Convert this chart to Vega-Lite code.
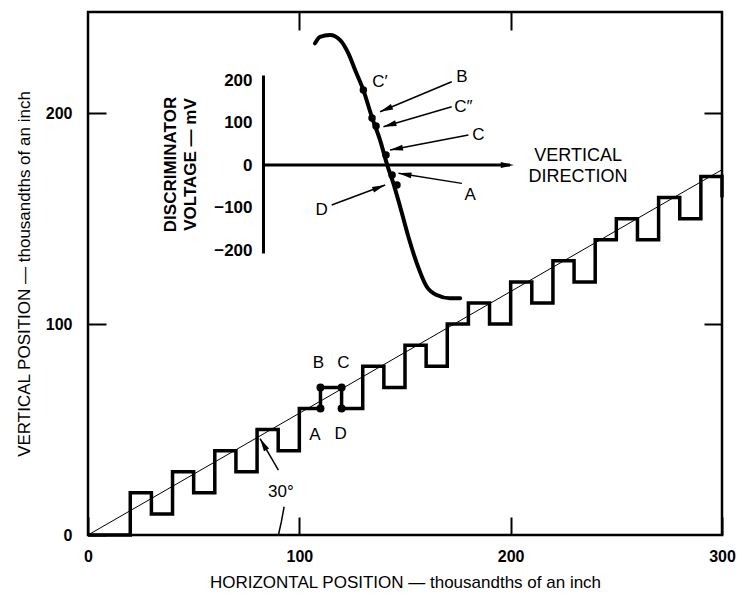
{
  "$schema": "https://vega.github.io/schema/vega-lite/v6.json",
  "width": 634,
  "height": 523,
  "autosize": {"type": "none"},
  "padding": {"left": 88, "top": 12, "right": 22, "bottom": 65},
  "background": "white",
  "config": {
    "view": {"stroke": "black", "strokeWidth": 2.5},
    "font": "Liberation Sans",
    "axis": {
      "domain": false, "grid": false, "tickColor": "black", "tickSize": -18, "tickWidth": 2,
      "labelColor": "black", "labelFont": "Liberation Sans", "labelFontSize": 16, "labelFontWeight": "bold",
      "titleFont": "Liberation Sans", "titleFontSize": 17, "titleFontWeight": "normal", "titleColor": "black"
    },
    "text": {"font": "Liberation Sans", "fontSize": 17, "color": "black"}
  },
  "datasets": {
    "stair": [
      {"i": 0, "x": 0, "y": 0}, {"i": 1, "x": 20, "y": 0}, {"i": 2, "x": 20, "y": 20}, {"i": 3, "x": 30, "y": 20},
      {"i": 4, "x": 30, "y": 10}, {"i": 5, "x": 40, "y": 10}, {"i": 6, "x": 40, "y": 30}, {"i": 7, "x": 50, "y": 30},
      {"i": 8, "x": 50, "y": 20}, {"i": 9, "x": 60, "y": 20}, {"i": 10, "x": 60, "y": 40}, {"i": 11, "x": 70, "y": 40},
      {"i": 12, "x": 70, "y": 30}, {"i": 13, "x": 80, "y": 30}, {"i": 14, "x": 80, "y": 50}, {"i": 15, "x": 90, "y": 50},
      {"i": 16, "x": 90, "y": 40}, {"i": 17, "x": 100, "y": 40}, {"i": 18, "x": 100, "y": 60}, {"i": 19, "x": 110, "y": 60},
      {"i": 20, "x": 110, "y": 70}, {"i": 21, "x": 120, "y": 70}, {"i": 22, "x": 120, "y": 60}, {"i": 23, "x": 130, "y": 60},
      {"i": 24, "x": 130, "y": 80}, {"i": 25, "x": 140, "y": 80}, {"i": 26, "x": 140, "y": 70}, {"i": 27, "x": 150, "y": 70},
      {"i": 28, "x": 150, "y": 90}, {"i": 29, "x": 160, "y": 90}, {"i": 30, "x": 160, "y": 80}, {"i": 31, "x": 170, "y": 80},
      {"i": 32, "x": 170, "y": 100}, {"i": 33, "x": 180, "y": 100}, {"i": 34, "x": 180, "y": 110}, {"i": 35, "x": 190, "y": 110},
      {"i": 36, "x": 190, "y": 100}, {"i": 37, "x": 200, "y": 100}, {"i": 38, "x": 200, "y": 120}, {"i": 39, "x": 210, "y": 120},
      {"i": 40, "x": 210, "y": 110}, {"i": 41, "x": 220, "y": 110}, {"i": 42, "x": 220, "y": 130}, {"i": 43, "x": 230, "y": 130},
      {"i": 44, "x": 230, "y": 120}, {"i": 45, "x": 240, "y": 120}, {"i": 46, "x": 240, "y": 140}, {"i": 47, "x": 250, "y": 140},
      {"i": 48, "x": 250, "y": 150}, {"i": 49, "x": 260, "y": 150}, {"i": 50, "x": 260, "y": 140}, {"i": 51, "x": 270, "y": 140},
      {"i": 52, "x": 270, "y": 160}, {"i": 53, "x": 280, "y": 160}, {"i": 54, "x": 280, "y": 150}, {"i": 55, "x": 290, "y": 150},
      {"i": 56, "x": 290, "y": 170}, {"i": 57, "x": 300, "y": 170}, {"i": 58, "x": 300, "y": 160}
    ],
    "diag": [{"x": 0, "y": 0}, {"x": 300, "y": 173.2}],
    "mdots": [{"x": 110, "y": 60}, {"x": 110, "y": 70}, {"x": 120, "y": 70}, {"x": 120, "y": 60}],
    "mlabels": [
      {"x": 109, "y": 81.7, "t": "B"}, {"x": 120.8, "y": 81.7, "t": "C"},
      {"x": 107.4, "y": 47.3, "t": "A"}, {"x": 119.6, "y": 47.8, "t": "D"},
      {"x": 91.3, "y": 20.4, "t": "30°"}
    ],
    "mlines": [
      {"id": "arrow30", "i": 0, "x": 90.1, "y": 30.8}, {"id": "arrow30", "i": 1, "x": 81.4, "y": 45.7},
      {"id": "arc", "i": 0, "x": 92.8, "y": 13.4}, {"id": "arc", "i": 1, "x": 91.5, "y": 6.3}, {"id": "arc", "i": 2, "x": 90.1, "y": 0}
    ],
    "mheads": [{"x": 81.4, "y": 45.7, "a": 240}],
    "curve": [
      {"i": 0, "x": 107.4, "v": 286.4}, {"i": 1, "x": 109.8, "v": 301.9}, {"i": 2, "x": 114.5, "v": 305.9},
      {"i": 3, "x": 119.3, "v": 294.1}, {"i": 4, "x": 123.2, "v": 262.8}, {"i": 5, "x": 126.4, "v": 223.5},
      {"i": 6, "x": 130.3, "v": 176.5}, {"i": 7, "x": 134.3, "v": 113.6}, {"i": 8, "x": 138.2, "v": 58.8},
      {"i": 9, "x": 141.6, "v": 0}, {"i": 10, "x": 144.5, "v": -43.1}, {"i": 11, "x": 147.7, "v": -98.1},
      {"i": 12, "x": 151.6, "v": -168.7}, {"i": 13, "x": 155.6, "v": -231.3}, {"i": 14, "x": 160.3, "v": -286.4},
      {"i": 15, "x": 165.0, "v": -305.9}, {"i": 16, "x": 171.3, "v": -313.6}, {"i": 17, "x": 176.1, "v": -313.6}
    ],
    "ilines": [
      {"id": "axis", "i": 0, "x": 83, "v": 0}, {"id": "axis", "i": 1, "x": 199.7, "v": 0}
    ],
    "iarrows": [
      {"id": "B", "i": 0, "x": 172.1, "v": 196.0}, {"id": "B", "i": 1, "x": 138.2, "v": 125.4},
      {"id": "C2", "i": 0, "x": 172.1, "v": 137.2}, {"id": "C2", "i": 1, "x": 139.8, "v": 90.1},
      {"id": "C", "i": 0, "x": 180.0, "v": 70.6}, {"id": "C", "i": 1, "x": 142.9, "v": 35.3},
      {"id": "A", "i": 0, "x": 176.9, "v": -43.1}, {"id": "A", "i": 1, "x": 146.9, "v": -19.5},
      {"id": "D", "i": 0, "x": 115.3, "v": -94.1}, {"id": "D", "i": 1, "x": 140.6, "v": -47.1}
    ],
    "iheads": [
      {"x": 138.2, "v": 125.4, "a": 157.3}, {"x": 139.8, "v": 90.1, "a": 163.7},
      {"x": 142.9, "v": 35.3, "a": 169.2}, {"x": 146.9, "v": -19.5, "a": 189},
      {"x": 140.6, "v": -47.1, "a": 339.4}, {"x": 201.5, "v": 0, "a": 0}
    ],
    "idots": [
      {"x": 130.3, "v": 176.5}, {"x": 134.4, "v": 110.6}, {"x": 136.3, "v": 91.8},
      {"x": 141.0, "v": 23.5}, {"x": 143.9, "v": -23.5}, {"x": 146.2, "v": -47.1}
    ],
    "ilabels": [
      {"x": 138.2, "v": 196.0, "t": "C′"}, {"x": 176.9, "v": 207.8, "t": "B"},
      {"x": 177.6, "v": 137.2, "t": "C″"}, {"x": 184.7, "v": 70.6, "t": "C"},
      {"x": 180.8, "v": -70.6, "t": "A"}, {"x": 110.6, "v": -105.9, "t": "D"}
    ],
    "itext": [
      {"x": 231.9, "v": 22, "t": "VERTICAL"}, {"x": 231.9, "v": -27, "t": "DIRECTION"}
    ]
  },
  "resolve": {"scale": {"y": "independent"}, "axis": {"x": "independent", "y": "independent"}},
  "layer": [
    {
      "layer": [
        {
          "data": {"name": "diag"},
          "mark": {"type": "line", "color": "black", "strokeWidth": 1},
          "encoding": {
            "x": {"field": "x", "type": "quantitative", "scale": {"domain": [0, 300], "nice": false},
              "axis": {"values": [0, 100, 200, 300], "title": "HORIZONTAL POSITION — thousandths of an inch", "labelPadding": 31, "titlePadding": 10, "labelFlush": false}},
            "y": {"field": "y", "type": "quantitative", "scale": {"domain": [0, 248], "nice": false},
              "axis": {"values": [0, 100, 200], "title": "VERTICAL POSITION — thousandths of an inch", "labelPadding": 34, "titlePadding": 12}}
          }
        },
        {
          "data": {"name": "stair"},
          "mark": {"type": "line", "color": "black", "strokeWidth": 3.5, "strokeJoin": "miter"},
          "encoding": {
            "x": {"field": "x", "type": "quantitative"},
            "y": {"field": "y", "type": "quantitative"},
            "order": {"field": "i", "type": "quantitative"}
          }
        },
        {
          "data": {"name": "mlines"},
          "mark": {"type": "line", "color": "black", "strokeWidth": 1.5},
          "encoding": {
            "x": {"field": "x", "type": "quantitative"},
            "y": {"field": "y", "type": "quantitative"},
            "detail": {"field": "id"},
            "order": {"field": "i", "type": "quantitative"}
          }
        },
        {
          "data": {"name": "mheads"},
          "mark": {"type": "point", "shape": "M0,0L-2.2,-0.5L-2.2,0.5Z", "filled": true, "color": "black", "opacity": 1, "size": 140},
          "encoding": {
            "x": {"field": "x", "type": "quantitative"},
            "y": {"field": "y", "type": "quantitative"},
            "angle": {"field": "a", "type": "quantitative", "scale": null}
          }
        },
        {
          "data": {"name": "mdots"},
          "mark": {"type": "circle", "color": "black", "opacity": 1, "size": 64},
          "encoding": {
            "x": {"field": "x", "type": "quantitative"},
            "y": {"field": "y", "type": "quantitative"}
          }
        },
        {
          "data": {"name": "mlabels"},
          "mark": {"type": "text", "align": "center", "baseline": "middle", "fontSize": 17},
          "encoding": {
            "x": {"field": "x", "type": "quantitative"},
            "y": {"field": "y", "type": "quantitative"},
            "text": {"field": "t"}
          }
        }
      ]
    },
    {
      "layer": [
        {
          "data": {"name": "curve"},
          "mark": {"type": "line", "color": "black", "strokeWidth": 4, "interpolate": "monotone", "strokeCap": "round"},
          "encoding": {
            "x": {"field": "x", "type": "quantitative", "axis": null},
            "y": {"field": "v", "type": "quantitative", "scale": {"domain": [-207, 212], "range": [241, 63], "nice": false, "zero": false},
              "axis": {"orient": "left", "offset": -175, "values": [-200, -100, 0, 100, 200], "ticks": false, "domain": true, "domainWidth": 3, "domainColor": "black",
                "labelPadding": 11, "labelFontSize": 17, "labelFontWeight": "bold", "title": ["DISCRIMINATOR", "VOLTAGE — mV"], "titleX": -93, "titleY": 152, "titleAngle": -90,
                "titleAlign": "center", "titleBaseline": "middle", "titleLineHeight": 20, "titleFontSize": 17, "titleFontWeight": "bold"}}
          }
        },
        {
          "data": {"name": "ilines"},
          "mark": {"type": "line", "color": "black", "strokeWidth": 3},
          "encoding": {
            "x": {"field": "x", "type": "quantitative", "axis": null},
            "y": {"field": "v", "type": "quantitative"},
            "detail": {"field": "id"},
            "order": {"field": "i", "type": "quantitative"}
          }
        },
        {
          "data": {"name": "iarrows"},
          "mark": {"type": "line", "color": "black", "strokeWidth": 1.5},
          "encoding": {
            "x": {"field": "x", "type": "quantitative", "axis": null},
            "y": {"field": "v", "type": "quantitative"},
            "detail": {"field": "id"},
            "order": {"field": "i", "type": "quantitative"}
          }
        },
        {
          "data": {"name": "iheads"},
          "mark": {"type": "point", "shape": "M0,0L-2.2,-0.5L-2.2,0.5Z", "filled": true, "color": "black", "opacity": 1, "size": 140},
          "encoding": {
            "x": {"field": "x", "type": "quantitative", "axis": null},
            "y": {"field": "v", "type": "quantitative"},
            "angle": {"field": "a", "type": "quantitative", "scale": null}
          }
        },
        {
          "data": {"name": "idots"},
          "mark": {"type": "circle", "color": "black", "opacity": 1, "size": 56},
          "encoding": {
            "x": {"field": "x", "type": "quantitative", "axis": null},
            "y": {"field": "v", "type": "quantitative"}
          }
        },
        {
          "data": {"name": "ilabels"},
          "mark": {"type": "text", "align": "center", "baseline": "middle", "fontSize": 17},
          "encoding": {
            "x": {"field": "x", "type": "quantitative", "axis": null},
            "y": {"field": "v", "type": "quantitative"},
            "text": {"field": "t"}
          }
        },
        {
          "data": {"name": "itext"},
          "mark": {"type": "text", "align": "center", "baseline": "middle", "fontSize": 18},
          "encoding": {
            "x": {"field": "x", "type": "quantitative", "axis": null},
            "y": {"field": "v", "type": "quantitative"},
            "text": {"field": "t"}
          }
        }
      ]
    },
    {
      "data": {"name": "diag"},
      "mark": {"type": "line", "opacity": 0},
      "encoding": {
        "x": {"field": "x", "type": "quantitative", "axis": {"orient": "top", "labels": false, "title": null, "values": [100, 200]}},
        "y": {"field": "y", "type": "quantitative", "scale": {"domain": [0, 248], "nice": false},
          "axis": {"orient": "right", "labels": false, "title": null, "values": [100, 200]}}
      }
    }
  ]
}
